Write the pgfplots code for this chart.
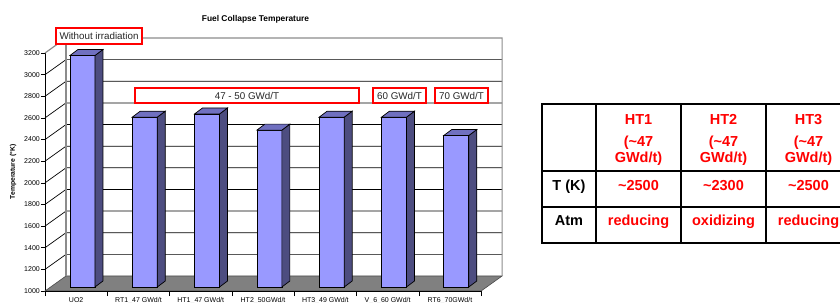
\documentclass[border=0pt]{standalone}
\usepackage{pgfplots}
\usepackage{pgfplotstable}
\pgfplotsset{compat=1.18}
\usepackage{fontspec}
\setmainfont{Liberation Sans}
\definecolor{barfront}{HTML}{9999FF}
\definecolor{barside}{HTML}{4D4D80}
\definecolor{bartop}{HTML}{7070C0}
\definecolor{floorc}{HTML}{808080}
\definecolor{wallgray}{HTML}{8C8C8C}
\pgfdeclareplotmark{bar3d}{%
  \pgfmathsetmacro\hh{(\tv-1000)*0.10818}%
  \pgfsetlinewidth{0.7bp}\pgfsetstrokecolor{black}%
  \pgfsetfillcolor{barfront}%
  \pgfpathrectanglecorners{\pgfpoint{-6.2bp}{4bp-\hh bp}}{\pgfpoint{18.8bp}{4bp}}%
  \pgfusepath{fill,stroke}%
  \pgfsetfillcolor{barside}%
  \pgfpathmoveto{\pgfpoint{18.8bp}{4bp-\hh bp}}%
  \pgfpathlineto{\pgfpoint{26.8bp}{10bp-\hh bp}}%
  \pgfpathlineto{\pgfpoint{26.8bp}{10bp}}%
  \pgfpathlineto{\pgfpoint{18.8bp}{4bp}}%
  \pgfpathclose
  \pgfusepath{fill,stroke}%
  \pgfsetfillcolor{bartop}%
  \pgfpathmoveto{\pgfpoint{-6.2bp}{4bp}}%
  \pgfpathlineto{\pgfpoint{1.8bp}{10bp}}%
  \pgfpathlineto{\pgfpoint{26.8bp}{10bp}}%
  \pgfpathlineto{\pgfpoint{18.8bp}{4bp}}%
  \pgfpathclose
  \pgfusepath{fill,stroke}%
}
\pgfplotstableread{
x T
0 3140
1 2570
2 2600
3 2450
4 2570
5 2570
6 2400
}\fctdata
\begin{document}
\begin{tikzpicture}
\begin{axis}[
  at={(0bp,0bp)}, anchor=south west,
  x=62.3bp, y=0.10818bp,
  xmin=-0.5, xmax=6.5, ymin=1000, ymax=3200,
  axis lines*=left,
  axis line style={black, line width=0.7bp},
  clip=false,
  ytick={1000,1200,...,3200},
  xtick={0,...,6},
  xticklabels={UO2, RT1\_47 GWd/t, HT1\_47 GWd/t, HT2\_50GWd/t, HT3\_49 GWd/t, V\_6\_60 GWd/t, RT6\_70GWd/t},
  minor xtick={-0.5,0.5,...,6.5},
  tick align=outside,
  major tick length=4bp, minor tick length=5bp,
  tick style={black, line width=0.6bp},
  major x tick style={draw=none},
  xticklabel style={font=\fontsize{7bp}{8bp}\selectfont, anchor=north, inner sep=0pt, yshift=-2bp},
  yticklabel style={font=\fontsize{7bp}{8bp}\selectfont, anchor=east, inner sep=0pt, xshift=-1bp},
  /pgf/number format/assume math mode=true,
  /pgf/number format/1000 sep={},
  scaled y ticks=false,
  ylabel={Temperature (°K)},
  every axis y label/.style={at={(axis description cs:-0.0734,0.5)}, anchor=center, rotate=90, font=\bfseries\fontsize{6.8bp}{8bp}\selectfont},
  title={Fuel Collapse Temperature},
  every axis title/.style={at={(axis description cs:0.4827,1.143)}, anchor=center, font=\bfseries\fontsize{8.4bp}{10bp}\selectfont},
]
\pgfplotsinvokeforeach{1200,1400,1600,1800,2000,2200,2400,2600,2800,3000}{
  \draw[black, line width=0.7bp] (axis cs:-0.5,#1) -- ([shift={(21bp,15bp)}]axis cs:-0.5,#1) -- ([shift={(21bp,15bp)}]axis cs:6.5,#1);
}
\fill[floorc, draw=black!70, line width=0.6bp] (axis cs:-0.5,1000) -- ([shift={(21bp,15bp)}]axis cs:-0.5,1000) -- ([shift={(21bp,15bp)}]axis cs:6.5,1000) -- (axis cs:6.5,1000) -- cycle;
\draw[wallgray, line width=1.2bp] (axis cs:-0.5,3200) -- ([shift={(21bp,15bp)}]axis cs:-0.5,3200) -- ([shift={(21bp,15bp)}]axis cs:6.5,3200) -- ([shift={(21bp,15bp)}]axis cs:6.5,1000);
\draw[wallgray, line width=1.2bp] ([shift={(21bp,15bp)}]axis cs:-0.5,3200) -- ([shift={(21bp,15bp)}]axis cs:-0.5,1000);
\draw[black, line width=0.7bp] (axis cs:-0.5,1000) -- (axis cs:6.5,1000);
\addplot[only marks, mark=bar3d, visualization depends on={rawy \as \tv}] table[x=x,y=T] {\fctdata};
\end{axis}
% annotation boxes
\begin{scope}[every node/.style={draw=red, line width=1.1bp, fill=white, inner sep=0pt, font=\fontsize{9.8bp}{11bp}\selectfont, text=black!85}]
\node[minimum width=86bp, minimum height=16bp] at (54bp,255bp) {Without irradiation};
\node[minimum width=224bp, minimum height=15bp] at (202bp,195.5bp) {47 - 50 GWd/T};
\node[minimum width=53bp, minimum height=15bp] at (354.5bp,195.5bp) {60 GWd/T};
\node[minimum width=53bp, minimum height=15bp] at (416.5bp,195.5bp) {70 GWd/T};
\end{scope}
% table
\draw[line width=1.2bp] (551bp,48bp) -- (551bp,187bp);
\draw[line width=1.2bp] (636bp,48bp) -- (636bp,187bp);
\draw[line width=1.2bp] (721bp,48bp) -- (721bp,187bp);
\draw[line width=1.2bp] (497bp,120bp) -- (806bp,120bp);
\draw[line width=1.2bp] (497bp,84bp) -- (806bp,84bp);
\draw[line width=2.4bp] (497bp,48bp) rectangle (806bp,187bp);
\begin{scope}[every node/.style={anchor=base, inner sep=0pt, font=\bfseries\fontsize{14.5bp}{16bp}\selectfont, text=red}]
\foreach \cx/\lab in {593.5/HT1, 678.5/HT2, 763.5/HT3}{
  \node at (\cx bp,166.7bp) {\lab};
  \node at (\cx bp,144.5bp) {(\textasciitilde 47};
  \node at (\cx bp,128.5bp) {GWd/t)};
}
\node at (593.5bp,100.3bp) {\textasciitilde 2500};
\node at (678.5bp,100.3bp) {\textasciitilde 2300};
\node at (763.5bp,100.3bp) {\textasciitilde 2500};
\node at (593.5bp,65.7bp) {reducing};
\node at (678.5bp,65.7bp) {oxidizing};
\node at (763.5bp,65.7bp) {reducing};
\node[text=black] at (524bp,100.3bp) {T (K)};
\node[text=black] at (524bp,65.7bp) {Atm};
\end{scope}
\pgfresetboundingbox
\useasboundingbox (-45bp,-12bp) rectangle (795bp,291bp);
\end{tikzpicture}
\end{document}
